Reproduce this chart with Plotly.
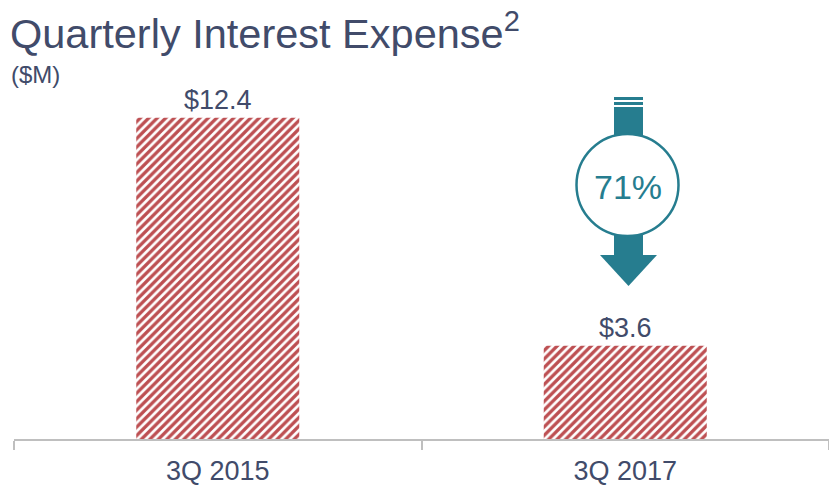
import plotly.graph_objects as go

categories = ["3Q 2015", "3Q 2017"]
values = [12.4, 3.6]
value_labels = ["$12.4", "$3.6"]
change_label = "71%"

W, H = 829, 487
ML, MR, MT, MB = 14, 0, 100, 48
PW, PH = W - ML - MR, H - MT - MB
PX_PER_UNIT = 25.9
ymax = PH / PX_PER_UNIT

def px(x):
    return (x - ML) / PW

def py(y):
    return (H - MB - y) / PH

TEAL = "#267d8f"
TEXT = "#414b6a"
RED = "#bd4f52"

fig = go.Figure()
fig.add_trace(go.Bar(
    x=categories, y=values,
    marker=dict(color="white", line=dict(width=0),
                pattern=dict(shape="/", fgcolor=RED, bgcolor="white", fgopacity=1,
                             size=6, solidity=0.55)),
    text=value_labels, textposition="outside", cliponaxis=False,
    textfont=dict(size=27, color=TEXT, family="Liberation Sans"),
    width=0.4,
))

shapes = []
for y0, y1 in [(97, 100), (102, 105)]:
    shapes.append(dict(type="rect", xref="paper", yref="paper",
                       x0=px(614), x1=px(643), y0=py(y1), y1=py(y0),
                       fillcolor=TEAL, line=dict(width=0)))
shapes.append(dict(type="rect", xref="paper", yref="paper",
                   x0=px(614), x1=px(643), y0=py(140), y1=py(107),
                   fillcolor=TEAL, line=dict(width=0)))
shapes.append(dict(type="rect", xref="paper", yref="paper",
                   x0=px(614), x1=px(643), y0=py(256), y1=py(230),
                   fillcolor=TEAL, line=dict(width=0)))
shapes.append(dict(type="path", xref="paper", yref="paper",
                   path=f"M {px(600)},{py(255)} L {px(657)},{py(255)} L {px(628.5)},{py(286)} Z",
                   fillcolor=TEAL, line=dict(width=0)))
cx, cy, r = 627.5, 185, 51
shapes.append(dict(type="circle", xref="paper", yref="paper",
                   x0=px(cx - r), x1=px(cx + r), y0=py(cy + r), y1=py(cy - r),
                   fillcolor="white", line=dict(color=TEAL, width=2.5)))

fig.update_layout(
    width=W, height=H,
    margin=dict(l=ML, r=MR, t=MT, b=MB, autoexpand=False),
    paper_bgcolor="white", plot_bgcolor="white",
    showlegend=False,
    bargap=0.6,
    shapes=shapes,
    xaxis=dict(showline=True, linecolor="#bfbfbf", linewidth=1.5,
               ticks="outside", tickson="boundaries", ticklen=9, tickcolor="#bfbfbf",
               tickwidth=1.5, ticklabelstandoff=7,
               tickfont=dict(size=27, color=TEXT, family="Liberation Sans"),
               showgrid=False, automargin=False),
    yaxis=dict(range=[0, ymax], visible=False, showgrid=False),
    annotations=[
        dict(text="Quarterly Interest Expense<sup>2</sup>", xref="paper", yref="paper",
             x=px(8), y=py(31), xanchor="left", yanchor="middle", showarrow=False,
             font=dict(size=41.5, color=TEXT, family="Liberation Sans")),
        dict(text="($M)", xref="paper", yref="paper",
             x=px(9), y=py(75), xanchor="left", yanchor="middle", showarrow=False,
             font=dict(size=24, color=TEXT, family="Liberation Sans")),
        dict(text=change_label, xref="paper", yref="paper",
             x=px(cx), y=py(cy + 2), xanchor="center", yanchor="middle", showarrow=False,
             font=dict(size=34, color=TEAL, family="Liberation Sans")),
    ],
)
fig.write_html("out.html", config={"displayModeBar": False},
               post_script="document.body.style.margin='0px';")
